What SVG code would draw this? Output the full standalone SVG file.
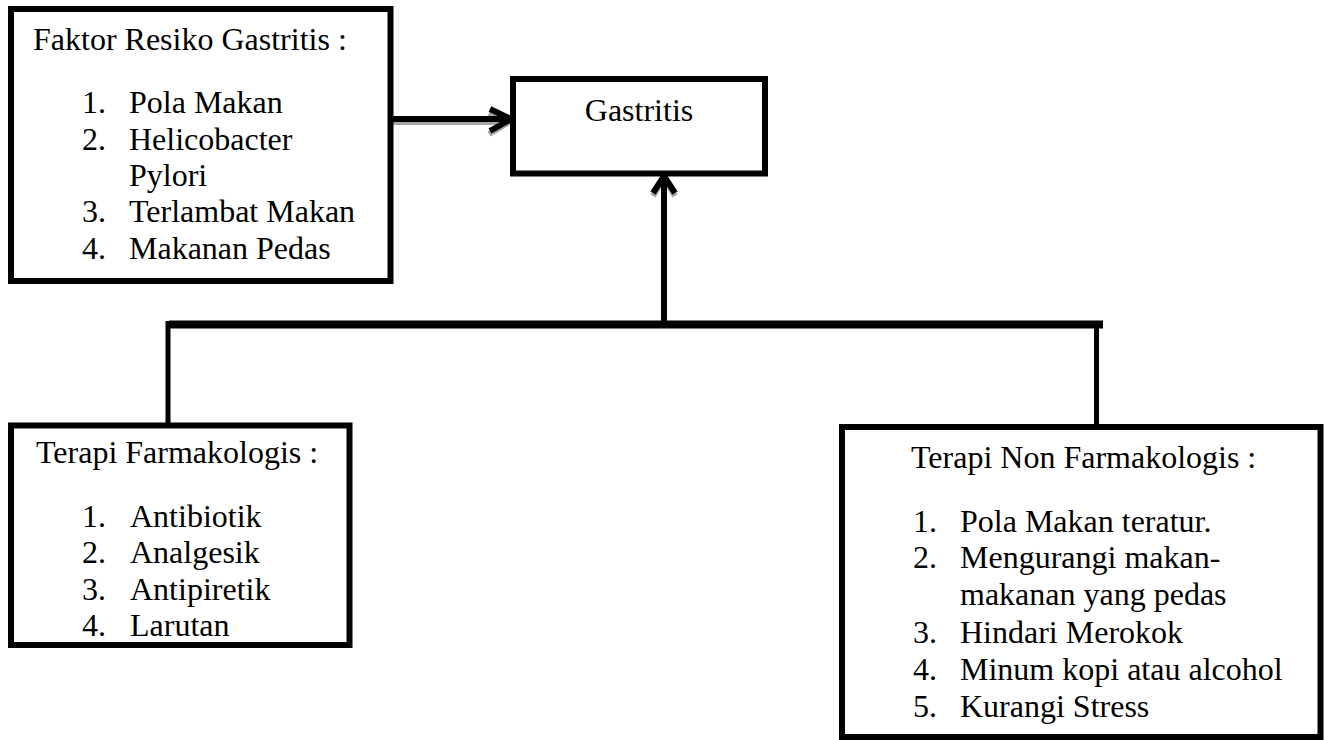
<svg xmlns="http://www.w3.org/2000/svg" width="1325" height="740" viewBox="0 0 1325 740">
<style>
.box{fill:#fff;stroke:#000;stroke-width:6}
.t{font-family:"Liberation Serif","Times New Roman",serif;font-size:32px;fill:#000}
.ln{fill:none;stroke:#000;stroke-linecap:butt}
.sh{fill:none;stroke:#a6a6a6;stroke-linecap:butt}
</style>
<rect width="1325" height="740" fill="#fff"/>
<g id="connectors">
  <!-- shadows -->
  <path class="sh" stroke-width="6" d="M393 122 H508"/>
  <path class="sh" stroke-width="6" d="M489 113 L509 122 L489 134"/>
  <path class="sh" stroke-width="6" d="M653 196 L664 178 L675 196"/>
  <!-- arrow from Faktor to Gastritis -->
  <path class="ln" stroke-width="6" d="M393 119 H509"/>
  <path class="ln" stroke-width="6" stroke-linejoin="miter" d="M490 109 L511 119 L490 131"/>
  <!-- bus -->
  <path class="ln" stroke-width="8" d="M169 324.5 H1103"/>
  <path class="ln" stroke-width="5" d="M168 321 V423"/>
  <path class="ln" stroke-width="5" d="M1096.5 321 V434"/>
  <!-- up arrow to Gastritis -->
  <path class="ln" stroke-width="6" d="M664 321 V179"/>
  <path class="ln" stroke-width="6" d="M653 193 L664 176 L675 193"/>
</g>
<g id="faktor">
  <rect class="box" x="11" y="9" width="379.5" height="272"/>
  <text class="t" x="33" y="50">Faktor Resiko Gastritis :</text>
  <text class="t" x="82" y="113">1.</text><text class="t" x="129" y="113">Pola Makan</text>
  <text class="t" x="82" y="150">2.</text><text class="t" x="129" y="150">Helicobacter</text>
  <text class="t" x="129" y="186">Pylori</text>
  <text class="t" x="82" y="222">3.</text><text class="t" x="129" y="222">Terlambat Makan</text>
  <text class="t" x="82" y="259">4.</text><text class="t" x="129" y="259">Makanan Pedas</text>
</g>
<g id="gastritis">
  <rect class="box" x="513" y="79" width="252" height="94.5" stroke-width="5"/>
  <text class="t" x="639" y="121" text-anchor="middle">Gastritis</text>
</g>
<g id="farmakologis">
  <rect class="box" x="11" y="425.5" width="338.5" height="219.5"/>
  <text class="t" x="36" y="463">Terapi Farmakologis :</text>
  <text class="t" x="82" y="527">1.</text><text class="t" x="130" y="527">Antibiotik</text>
  <text class="t" x="82" y="563">2.</text><text class="t" x="130" y="563">Analgesik</text>
  <text class="t" x="82" y="600">3.</text><text class="t" x="130" y="600">Antipiretik</text>
  <text class="t" x="82" y="636">4.</text><text class="t" x="130" y="636">Larutan</text>
</g>
<g id="nonfarmakologis">
  <rect class="box" x="842" y="427" width="478.5" height="310" stroke-width="7"/>
  <text class="t" x="911" y="468">Terapi Non Farmakologis :</text>
  <text class="t" x="913" y="532">1.</text><text class="t" x="960" y="532">Pola Makan teratur.</text>
  <text class="t" x="913" y="568">2.</text><text class="t" x="960" y="568">Mengurangi makan-</text>
  <text class="t" x="960" y="605">makanan yang pedas</text>
  <text class="t" x="913" y="643">3.</text><text class="t" x="960" y="643">Hindari Merokok</text>
  <text class="t" x="913" y="680">4.</text><text class="t" x="960" y="680">Minum kopi atau alcohol</text>
  <text class="t" x="913" y="717">5.</text><text class="t" x="960" y="717">Kurangi Stress</text>
</g>
</svg>
